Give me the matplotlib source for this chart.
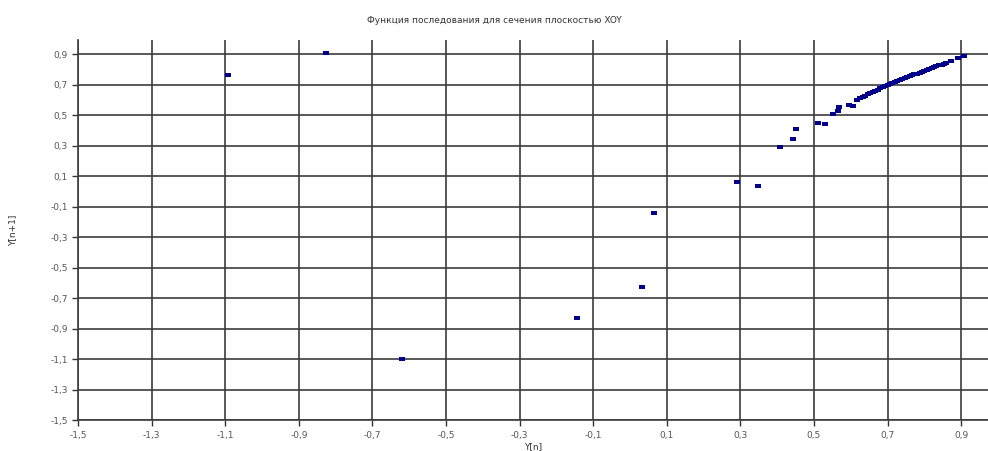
import matplotlib
matplotlib.use('Agg')
import matplotlib.pyplot as plt
import numpy as np

# sparse points of the map
x_sparse = [-1.092, -0.826, -0.619, -0.145, 0.033, 0.065, 0.291, 0.347,
            0.409, 0.443, 0.450, 0.510, 0.530, 0.553, 0.566, 0.569,
            0.595, 0.607, 0.617]
y_sparse = [0.761, 0.905, -1.100, -0.830, -0.624, -0.144, 0.063, 0.033,
            0.289, 0.346, 0.411, 0.450, 0.442, 0.511, 0.530, 0.552,
            0.569, 0.563, 0.598]

# dense branch near the fixed point
x_dense = [0.626, 0.633, 0.640, 0.647, 0.653, 0.660, 0.667, 0.673, 0.680,
           0.687, 0.693, 0.700, 0.707, 0.713, 0.720, 0.727, 0.733, 0.740,
           0.747, 0.753, 0.760, 0.767, 0.773, 0.780, 0.787, 0.793, 0.800,
           0.807, 0.813, 0.820, 0.827, 0.833, 0.840, 0.847, 0.853, 0.860,
           0.872, 0.891, 0.907]
y_dense = [0.611, 0.620, 0.628, 0.636, 0.643, 0.651, 0.659, 0.667, 0.676,
           0.684, 0.692, 0.700, 0.706, 0.712, 0.718, 0.725, 0.731, 0.737,
           0.743, 0.749, 0.755, 0.761, 0.767, 0.773, 0.779, 0.785, 0.791,
           0.797, 0.803, 0.809, 0.815, 0.820, 0.826, 0.832, 0.837, 0.843,
           0.855, 0.873, 0.889]

ticks = [-1.5, -1.3, -1.1, -0.9, -0.7, -0.5, -0.3, -0.1, 0.1, 0.3, 0.5, 0.7, 0.9]
tick_labels = ['-1,5', '-1,3', '-1,1', '-0,9', '-0,7', '-0,5', '-0,3', '-0,1',
               '0,1', '0,3', '0,5', '0,7', '0,9']

fig = plt.figure(figsize=(9.88, 4.51), dpi=100)
ax = fig.add_axes([0.079, 0.068, 0.921, 0.844])

grid_col = '#3c3c3c'
for t in ticks:
    ax.axvline(t, color=grid_col, lw=1.2, zorder=1)
    ax.axhline(t, color=grid_col, lw=1.2, zorder=1)

rect = [(-1.5, -1), (1.5, -1), (1.5, 1), (-1.5, 1)]
ax.scatter(x_sparse + x_dense, y_sparse + y_dense, marker=rect, s=13,
           color='#00008b', linewidths=0, zorder=3)

ax.set_xlim(-1.5, 0.973)
ax.set_ylim(-1.5, 0.995)
ax.set_xticks(ticks)
ax.set_xticklabels(tick_labels)
ax.set_yticks(ticks)
ax.set_yticklabels(tick_labels)
ax.tick_params(axis='both', labelsize=6.5, colors='#333333', length=4,
               width=1, labelcolor='#555555')
for s in ['top', 'right']:
    ax.spines[s].set_visible(False)
for s in ['left', 'bottom']:
    ax.spines[s].set_color(grid_col)
    ax.spines[s].set_linewidth(1.2)

ax.set_xlabel('Y[n]', fontsize=6.5, color='#333333', labelpad=2)
ax.set_ylabel('Y[n+1]', fontsize=6.5, color='#333333', labelpad=24)
fig.text(0.5, 0.955, 'Функция последования для сечения плоскостью XOY',
         ha='center', va='center', fontsize=6.5, color='#333333')

plt.savefig('out.png', dpi=100)
